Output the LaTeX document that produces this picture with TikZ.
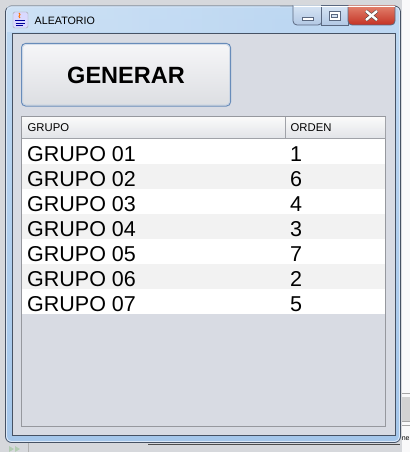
\documentclass[tikz,border=0pt]{standalone}
\usepackage{fontspec}
\setmainfont{Liberation Sans}
\usetikzlibrary{calc}
\definecolor{bgout}{RGB}{214,216,220}
\definecolor{frameA}{RGB}{190,216,242}
\definecolor{frameB}{RGB}{164,198,234}
\definecolor{frameline}{RGB}{70,82,100}
\definecolor{content}{RGB}{216,219,227}
\definecolor{paneline}{RGB}{150,152,158}
\definecolor{rowalt}{RGB}{242,242,242}
\definecolor{hdrA}{RGB}{250,250,250}
\definecolor{hdrB}{RGB}{226,228,232}
\definecolor{hdrline}{RGB}{160,162,168}
\definecolor{btnline}{RGB}{104,140,186}
\definecolor{btnA}{RGB}{246,246,248}
\definecolor{btnB}{RGB}{220,222,226}
\definecolor{capA}{RGB}{214,228,244}
\definecolor{capB}{RGB}{178,200,228}
\definecolor{closeA}{RGB}{226,130,110}
\definecolor{closeB}{RGB}{196,50,36}
\definecolor{capline}{RGB}{90,104,128}
\tikzset{
  rowtext/.style={anchor=base west, inner sep=0pt, font=\fontsize{21.5}{24}\selectfont, text=black},
  hdrtext/.style={anchor=base west, inner sep=0pt, font=\fontsize{11.3}{13}\selectfont, text=black},
  capbtn/.style={draw=capline, line width=0.8pt, top color=capA, bottom color=capB},
}
\begin{document}
\begin{tikzpicture}[x=1pt,y=-1pt]
\useasboundingbox (0,0) rectangle (410,452);
% background behind the window
\fill[bgout] (0,0) rectangle (410,452);
\fill[white!85!bgout] (402,0) rectangle (410,452);
\draw[gray!70, line width=0.6pt] (402,393) -- (410,393) (402,397) -- (410,397) (402,421) -- (410,421) (402,425) -- (410,425);
\fill[gray!35] (402,397) rectangle (410,421);
\draw[gray!60!black, line width=0.8pt] (148,444) -- (400,444);
\draw[gray!60, line width=0.6pt] (28,443) -- (28,452);
\fill[green!20!gray!50] (9,446) -- (14,449) -- (9,452) -- cycle;
\fill[green!20!gray!50] (15,446) -- (20,449) -- (15,452) -- cycle;
\node[anchor=base west, inner sep=0pt, font=\fontsize{7}{8}\selectfont] (behind) at (401.6,440) {ne};
% window frame
\shade[top color=frameA, bottom color=frameB, draw=frameline, line width=0.8pt, rounded corners=6pt]
  (5.5,6) rectangle (400.5,442.5);
\shade[left color=white!40!frameA, right color=frameA, opacity=0.6] (7,7) rectangle (280,32);
\draw[white!60!frameB, line width=0.8pt, rounded corners=5pt] (6.5,7) rectangle (399.5,441.5);
% content area
\fill[content] (13,33) rectangle (395,435);
\draw[frameline, line width=0.8pt] (12.5,33) rectangle (395,435.5);
% caption buttons
\path[capbtn, rounded corners=4pt] (293,5.5) -- (293,25) -- (322,25) -- (322,5.5);
\path[capbtn] (321,5.5) rectangle (348,25);
\path[draw=capline, line width=0.8pt, top color=closeA, bottom color=closeB, rounded corners=4pt]
  (348,5.5) -- (348,25) -- (395,25) -- (395,5.5);
\fill[white] (293.5,6) rectangle (394.5,6.8);
% minimize glyph
\draw[capline, fill=white, line width=0.6pt] (302,17) rectangle (313,20);
% maximize glyph
\draw[capline, line width=0.6pt, fill=white] (329,11) rectangle (340,20);
\draw[capline, line width=0.6pt, fill=capA] (331.5,14) rectangle (337.5,17.5);
% close glyph
\draw[gray!50!black, line width=3.4pt] (366,11) -- (377,20) (366,20) -- (377,11);
\draw[white, line width=2.4pt] (366,11) -- (377,20) (366,20) -- (377,11);
% java icon
\node[draw=gray!70, fill=white!85!blue, rounded corners=1.5pt, minimum width=15pt, minimum height=16pt, inner sep=0pt] (javaicon) at (20.5,20) {};
\draw[orange!90!red, line width=1pt] (19,13) .. controls (22,15) and (17,16) .. (20,18);
\draw[blue!60!black, line width=0.9pt] (15,20) -- (25,20) (15.5,23) -- (24.5,23) (16,25.5) -- (23,25.5);
% title
\node[anchor=west, inner sep=0pt, font=\fontsize{10.7}{12}\selectfont] (title) at (34.5,20.5) {ALEATORIO};
% GENERAR button
\shade[top color=btnA, bottom color=btnB, draw=btnline, line width=1pt, rounded corners=4pt]
  (21.5,43.5) rectangle (230.5,106);
\draw[white!60!btnline, line width=0.6pt, rounded corners=3pt] (22.7,44.7) rectangle (229.3,104.8);
\node[inner sep=0pt, font=\bfseries\fontsize{23.5}{26}\selectfont] (generar) at (126,75) {GENERAR};
% scroll pane
\draw[paneline, line width=0.8pt] (21.5,116.5) rectangle (385.5,426);
% header
\shade[top color=hdrA, bottom color=hdrB] (22,117) rectangle (385,138);
\draw[hdrline, line width=0.8pt] (22,138) -- (385,138);
\draw[hdrline, line width=0.8pt] (285,117) -- (285,138);
\node[hdrtext] (hgrupo) at (27.5,131.5) {GRUPO};
\node[hdrtext] (horden) at (290.5,131.5) {ORDEN};
% rows
\foreach \i/\g/\n in {0/01/1,1/02/6,2/03/4,3/04/3,4/05/7,5/06/2,6/07/5}{
  \pgfmathsetmacro{\yy}{138.5+25*\i}
  \ifodd\i
    \fill[rowalt] (22,\yy) rectangle (385,\yy+25);
  \else
    \fill[white] (22,\yy) rectangle (385,\yy+25);
  \fi
  \node[rowtext] (g\i) at (27,\yy+23) {GRUPO \g};
  \node[rowtext] (o\i) at (290,\yy+23) {\n};
}
\end{tikzpicture}
\end{document}
